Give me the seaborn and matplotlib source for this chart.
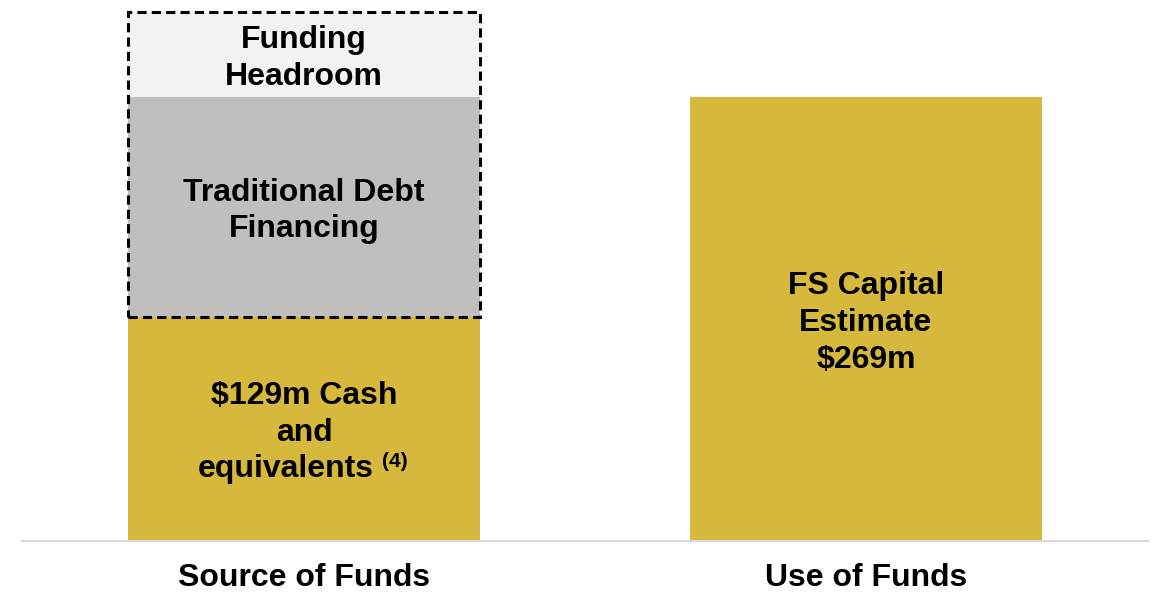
import matplotlib.pyplot as plt
import pandas as pd
import seaborn as sns
from matplotlib.patches import Rectangle

# Data (heights in $m, bars are not strictly to scale)
categories = ["Source of Funds", "Use of Funds"]
cash = [136, 269]
debt = [133, 0]
headroom = [51.5, 0]
headroom_label = "Funding\nHeadroom"
debt_label = "Traditional Debt\nFinancing"
cash_lines = ["$129m Cash", "and", "equivalents"]
cash_note = "(4)"
use_label = "FS Capital\nEstimate\n$269m"

GOLD = "#D6B83C"
GREY = "#BFBFBF"
LIGHT = "#F2F2F2"

sns.set_style("white")
plt.rcParams["font.family"] = ["Liberation Sans", "DejaVu Sans"]

df = pd.DataFrame({"category": categories, "cash": cash, "debt": debt, "headroom": headroom})
df["top_debt"] = df["cash"] + df["debt"]
df["top_headroom"] = df["top_debt"] + df["headroom"]

fig = plt.figure(figsize=(11.54, 5.93), dpi=100)
ax = fig.add_axes([22 / 1154, 52 / 593, 1126 / 1154, 541 / 593])

bar_w = 0.626
# stacked: draw tallest first, then overlay
sns.barplot(data=df, x="category", y="top_headroom", color=LIGHT, width=bar_w,
            saturation=1, ax=ax)
sns.barplot(data=df, x="category", y="top_debt", color=GREY, width=bar_w,
            saturation=1, ax=ax)
sns.barplot(data=df, x="category", y="cash", color=GOLD, width=bar_w,
            saturation=1, ax=ax)
for p in ax.patches:
    p.set_edgecolor("none")
    p.set_linewidth(0)

ax.set_xlim(-0.502, 1.502)
ax.set_ylim(0, 327.8)

# dashed box around the debt + headroom part of the first bar
first = ax.patches[0]
ax.add_patch(Rectangle((first.get_x(), df["cash"][0]), first.get_width(),
                       df["top_headroom"][0] - df["cash"][0], fill=False,
                       edgecolor="black", linewidth=2.2, linestyle=(0, (3, 1.7)),
                       zorder=5))

fs = 23
line_step = 26.3  # points between text lines
txt = dict(ha="center", va="center", fontsize=fs, fontweight="bold",
           linespacing=1.3, color="black", textcoords="offset points")
ax.annotate(headroom_label, (0, df["top_debt"][0] + df["headroom"][0] / 2),
            xytext=(0, -3), **txt)
ax.annotate(debt_label, (0, df["cash"][0] + df["debt"][0] / 2), xytext=(0, -3), **txt)
ax.annotate(use_label, (1, df["cash"][1] / 2), xytext=(0, -3), **txt)

# cash label: centre line on the segment, last line shifted for the note
mid = (0, df["cash"][0] / 2)
ax.annotate(cash_lines[0], mid, xytext=(0, line_step - 3), **txt)
ax.annotate(cash_lines[1], mid, xytext=(0, -3), **txt)
eq = ax.annotate(cash_lines[2], mid, xytext=(-13, -line_step - 3), **txt)
ax.annotate(cash_note, xy=(1, 0), xycoords=eq, xytext=(6, 9.5),
            textcoords="offset points", ha="left", va="bottom",
            fontsize=15, fontweight="bold", color="black")

sns.despine(ax=ax, left=True, top=True, right=True)
ax.spines["bottom"].set_color("#D9D9D9")
ax.spines["bottom"].set_linewidth(1.5)
ax.set_yticks([])
ax.set_xlabel("")
ax.set_ylabel("")
ax.tick_params(axis="x", length=0, pad=15.5, labelsize=fs, labelcolor="black")
for lab in ax.get_xticklabels():
    lab.set_fontweight("bold")

fig.savefig("out.png", dpi=100)
